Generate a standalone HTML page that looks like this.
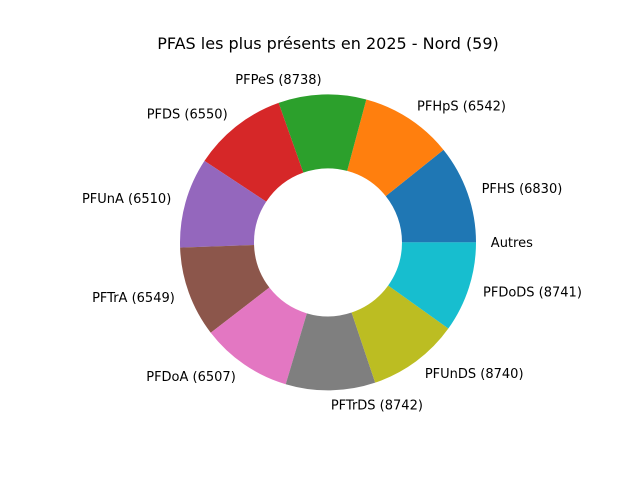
<!DOCTYPE html>
<html><head><meta charset="utf-8"><style>
body{margin:0;background:#fff}
svg{display:block;font-family:"DejaVu Sans","Liberation Sans",sans-serif}
</style></head><body>
<svg id="chart" width="640" height="480" viewBox="0 0 640 480">
<rect width="640" height="480" fill="#fff"/>
<text x="328" y="49" text-anchor="middle" font-size="16" fill="#000">PFAS les plus présents en 2025 - Nord (59)</text>
<g id="slices"></g><g id="labels"></g>
</svg>
<script>
const categories = ["PFHS (6830)","PFHpS (6542)","PFPeS (8738)","PFDS (6550)","PFUnA (6510)","PFTrA (6549)","PFDoA (6507)","PFTrDS (8742)","PFUnDS (8740)","PFDoDS (8741)","Autres"];
const values = [38.7,36.3,34.5,37.1,35.4,35.6,35.8,35.2,35.8,35.6,0];
const colors = ["#1f77b4","#ff7f0e","#2ca02c","#d62728","#9467bd","#8c564b","#e377c2","#7f7f7f","#bcbd22","#17becf","#1f77b4"];
const cx=328, cy=242.4, R=148, r=74;
const total = values.reduce((a,b)=>a+b,0);
const ns="http://www.w3.org/2000/svg";
const gS=document.getElementById('slices'), gL=document.getElementById('labels');
function pt(rad,a){return [cx+rad*Math.cos(a), cy-rad*Math.sin(a)];}
let start=0;
values.forEach((v,i)=>{
  const sweep=v/total*2*Math.PI, end=start+sweep;
  if(v>0){
    const [x1,y1]=pt(R,start),[x2,y2]=pt(R,end),[x3,y3]=pt(r,end),[x4,y4]=pt(r,start);
    const lg=sweep>Math.PI?1:0;
    const p=document.createElementNS(ns,'path');
    p.setAttribute('d',`M${x1},${y1} A${R},${R} 0 ${lg} 0 ${x2},${y2} L${x3},${y3} A${r},${r} 0 ${lg} 1 ${x4},${y4} Z`);
    p.setAttribute('fill',colors[i]);
    
    
    gS.appendChild(p);
  }
  const mid=(start+end)/2;
  const [lx,ly]=pt(R*1.1,mid);
  const t=document.createElementNS(ns,'text');
  t.setAttribute('x',lx);t.setAttribute('y',ly+4.5);
  t.setAttribute('font-size','13');
  t.setAttribute('text-anchor',Math.cos(mid)>=0?'start':'end');
  t.textContent=categories[i];
  
  
  gL.appendChild(t);
  start=end;
});
</script>
</body></html>
